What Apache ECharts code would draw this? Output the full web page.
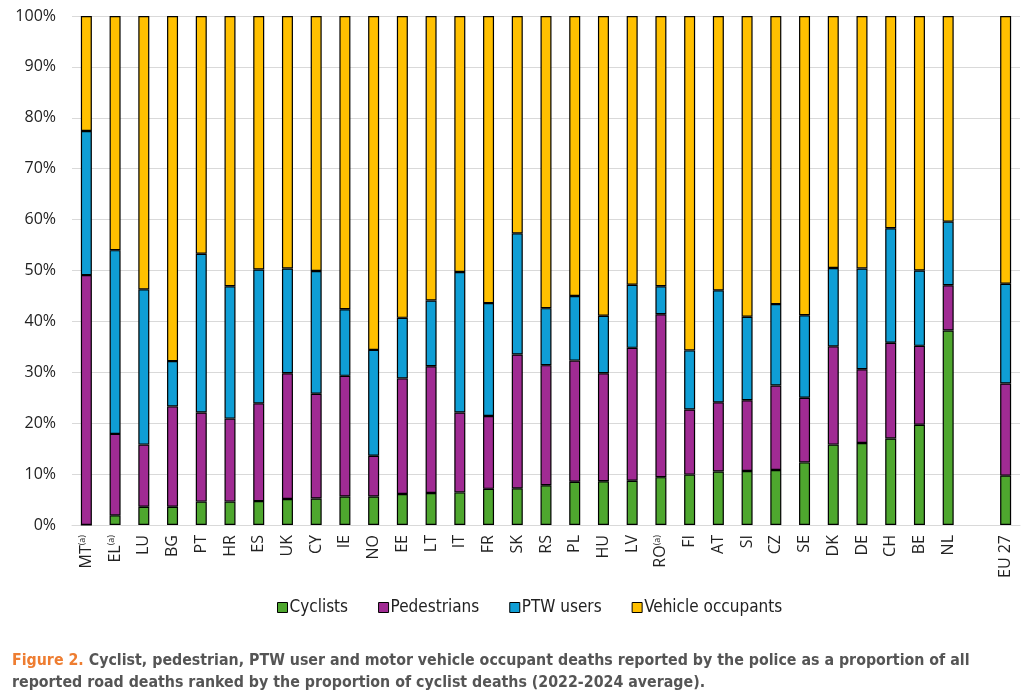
<!DOCTYPE html>
<html>
<head>
<meta charset="utf-8">
<script src="https://cdn.jsdelivr.net/npm/echarts@6/dist/echarts.min.js"></script>
<style>
  html, body { margin: 0; padding: 0; background: #fff; }
  #chart { width: 1024px; height: 695px; }
</style>
</head>
<body>
<div id="chart"></div>
<script>
// 国家（空字符串为 EU 27 前的空位）
const countries = ['MT', 'EL', 'LU', 'BG', 'PT', 'HR', 'ES', 'UK', 'CY', 'IE', 'NO', 'EE', 'LT', 'IT', 'FR', 'SK',
    'RS', 'PL', 'HU', 'LV', 'RO', 'FI', 'AT', 'SI', 'CZ', 'SE', 'DK', 'DE', 'CH', 'BE', 'NL', '', 'EU 27'];
// 带 (a) 注脚的国家
const footnoted = ['MT', 'EL', 'RO'];

// 各类死亡占比（%）
const cyclists = [0, 1.9, 3.6, 3.6, 4.6, 4.6, 4.7, 5.1, 5.2, 5.6, 5.6, 6.1, 6.3, 6.4, 7.1, 7.2,
    7.8, 8.5, 8.6, 8.7, 9.4, 9.9, 10.5, 10.6, 10.8, 12.3, 15.8, 16.1, 17.0, 19.7, 38.2, '-', 9.7];
const pedestrians = [49.1, 16.0, 12.2, 19.7, 17.5, 16.3, 19.2, 24.7, 20.6, 23.7, 8.0, 22.7, 24.9, 15.7, 14.3, 26.3,
    23.6, 23.8, 21.2, 26.1, 32.0, 12.8, 13.6, 13.9, 16.6, 12.7, 19.3, 14.5, 18.8, 15.5, 8.9, '-', 18.1];
const ptwUsers = [28.3, 36.1, 30.5, 8.9, 31.2, 26.0, 26.3, 20.6, 24.1, 13.1, 20.8, 11.9, 12.9, 27.6, 22.2, 23.8,
    11.2, 12.7, 11.3, 12.4, 5.5, 11.6, 22.0, 16.4, 16.0, 16.2, 15.4, 19.8, 22.5, 14.8, 12.5, '-', 19.6];
const vehicleOccupants = [22.6, 46.0, 53.7, 67.8, 46.7, 53.1, 49.8, 49.6, 50.1, 57.6, 65.6, 59.3, 55.9, 50.3, 56.4, 42.7,
    57.4, 55.0, 58.9, 52.8, 53.1, 65.7, 53.9, 59.1, 56.6, 58.8, 49.5, 49.6, 41.7, 50.0, 40.4, '-', 52.6];

const yTicks = [0, 10, 20, 30, 40, 50, 60, 70, 80, 90, 100];

const seriesNames = ['Cyclists', 'Pedestrians', 'PTW users', 'Vehicle occupants'];
const seriesColors = ['#4ea72e', '#a02b93', '#0f9ed5', '#ffc000'];
const seriesData = [cyclists, pedestrians, ptwUsers, vehicleOccupants];

const labelFont = 'Open Sans';
const condFont = '"DejaVu Sans Condensed", "DejaVu Sans"';

const myChart = echarts.init(document.getElementById('chart'));

const option = {
    animation: false,
    backgroundColor: '#fff',
    title: {
        left: 7,
        top: 645,
        text: '{o|Figure 2.} {t|Cyclist, pedestrian, PTW user and motor vehicle occupant deaths reported by the police as a proportion of all}\n'
            + '{t|reported road deaths ranked by the proportion of cyclist deaths (2022-2024 average).}',
        textStyle: {
            rich: {
                o: { fontFamily: condFont, fontSize: 15.8, fontWeight: 'bold', color: '#ee7d31', lineHeight: 22 },
                t: { fontFamily: condFont, fontSize: 15.8, fontWeight: 'bold', color: '#555555', lineHeight: 22 }
            }
        }
    },
    legend: {
        left: 272,
        top: 594,
        icon: 'rect',
        itemWidth: 10,
        itemHeight: 10,
        itemGap: 30,
        data: seriesNames,
        itemStyle: { borderColor: '#000', borderWidth: 1 },
        textStyle: { fontFamily: condFont, fontSize: 17, color: '#222', padding: [0, 0, 0, -3] }
    },
    grid: {
        left: 72,
        right: 4,
        top: 16,
        bottom: 170
    },
    xAxis: {
        type: 'category',
        data: countries,
        axisLine: { lineStyle: { color: '#d9d9d9', width: 1 } },
        axisTick: { show: false },
        axisLabel: {
            interval: 0,
            rotate: 90,
            margin: 10,
            fontFamily: labelFont,
            fontSize: 16,
            color: '#222',
            formatter: function (value) {
                return footnoted.includes(value) ? '{n|' + value + '}{s|(a)}' : '{n|' + value + '}';
            },
            rich: {
                n: { fontFamily: labelFont, fontSize: 16, color: '#222' },
                s: { fontFamily: labelFont, fontSize: 9, color: '#222', verticalAlign: 'top', padding: [0, 0, 7, 0] }
            }
        }
    },
    yAxis: {
        type: 'value',
        min: yTicks[0],
        max: yTicks[yTicks.length - 1],
        interval: 10,
        axisLine: { show: false },
        axisTick: { show: false },
        splitLine: { lineStyle: { color: '#d9d9d9', width: 1 } },
        axisLabel: {
            margin: 16,
            fontFamily: labelFont,
            fontSize: 16,
            color: '#222',
            formatter: '{value}%'
        }
    },
    series: seriesNames.map((name, i) => ({
        name: name,
        type: 'bar',
        stack: 'total',
        barWidth: 11,
        data: seriesData[i],
        itemStyle: {
            color: seriesColors[i],
            borderColor: '#000',
            borderWidth: 1.2
        }
    }))
};

myChart.setOption(option);
</script>
</body>
</html>
